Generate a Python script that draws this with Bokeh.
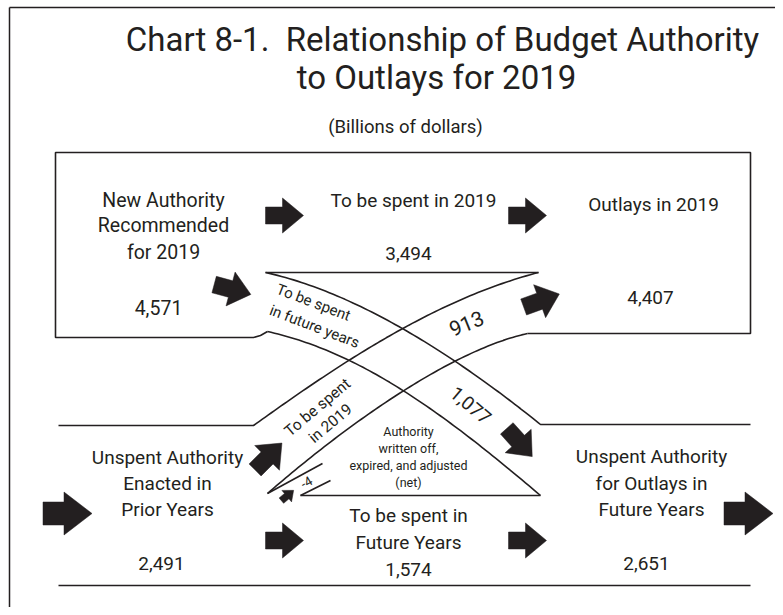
import numpy as np
from bokeh.plotting import figure
from bokeh.models import Range1d
from bokeh.embed import file_html
from bokeh.resources import INLINE
from bokeh.core.properties import value

# ---------------- data (billions of dollars) ----------------
title_lines = ["Chart 8-1.\u00a0 Relationship of Budget Authority", "to Outlays for 2019"]
subtitle = "(Billions of dollars)"

node_labels = [
    ["New Authority", "Recommended", "for 2019"],
    ["To be spent in 2019"],
    ["Outlays in 2019"],
    ["Unspent Authority", "Enacted in", "Prior Years"],
    ["To be spent in", "Future Years"],
    ["Unspent Authority", "for Outlays in", "Future Years"],
]
node_values = [4571, 3494, 4407, 2491, 1574, 2651]

flow_labels = [["To be spent", "in future years"], ["To be spent", "in 2019"]]
flow_values = [1077, 913]
writeoff_label = ["Authority", "written off,", "expired, and adjusted", "(net)"]
writeoff_value = -4

# ---------------- layout ----------------
TC = "#231F20"
FONT = "Roboto"
W, H = 775, 607

p = figure(width=W, height=H, x_range=Range1d(0, W), y_range=Range1d(H, 0),
           toolbar_location=None, output_backend="svg", min_border=0,
           x_axis_type=None, y_axis_type=None)
p.grid.visible = False
p.outline_line_color = None
p.background_fill_color = "white"
p.border_fill_color = "white"


def txt(x, y, s, size, angle=0.0):
    p.text(x=[x], y=[y], text=[s], text_font=value(FONT), text_font_size=f"{size}px",
           text_align="center", text_baseline="middle", angle=angle, text_color=TC)


def bez(p0, p1, p2, p3, n=80):
    t = np.linspace(0, 1, n)[:, None]
    P = ((1 - t) ** 3) * np.array(p0) + 3 * ((1 - t) ** 2) * t * np.array(p1) \
        + 3 * (1 - t) * t ** 2 * np.array(p2) + t ** 3 * np.array(p3)
    return list(P[:, 0]), list(P[:, 1])


def arrow(cx, cy, deg, L, shaft_len, shaft_half, head_half):
    u = np.array([-L / 2, -L / 2 + shaft_len, -L / 2 + shaft_len, L / 2,
                  -L / 2 + shaft_len, -L / 2 + shaft_len, -L / 2])
    v = np.array([-shaft_half, -shaft_half, -head_half, 0, head_half, shaft_half, shaft_half])
    th = np.radians(deg)
    dx, dy = np.cos(th), -np.sin(th)
    nx, ny = np.sin(th), np.cos(th)
    return list(cx + u * dx + v * nx), list(cy + u * dy + v * ny)


# frame (left and top edges)
p.multi_line(xs=[[9, 9], [9, W]], ys=[[H, 7], [7, 7]], line_color=TC, line_width=1.5)

# title
txt(442, 39, title_lines[0], 33)
txt(436, 77, title_lines[1], 33)
txt(405, 126, subtitle, 18.5)

# ---------------- flow lines ----------------
lines_x, lines_y = [], []
# top box outline
lines_x.append([527, 750, 750, 55, 55, 253, 260, 267])
lines_y.append([333, 333, 152, 152, 337, 337, 335, 331])
# top of the crossing band
lines_x.append([265, 538]); lines_y.append([272, 272])
# upper boundary of "future years" band + lower band top right
ax, ay = bez((265, 272), (370, 295), (478, 374), (540, 424))
lines_x.append(ax + [750]); lines_y.append(ay + [424])
# lower boundary of "future years" band (right edge of triangle)
ax, ay = bez((267, 331), (360, 352), (440, 410), (540, 495))
lines_x.append(ax); lines_y.append(ay)
# lower band top left + upper boundary of "2019" band
bx, by = bez((253, 425), (330, 370), (430, 300), (538, 272))
lines_x.append([58] + bx); lines_y.append([425] + by)
# lower boundary of "2019" band
bx, by = bez((267, 493), (345, 425), (450, 350), (527, 333))
lines_x.append(bx); lines_y.append(by)
# triangle bottom
lines_x.append([300, 540]); lines_y.append([495, 495])
# write-off wedge
lines_x.append([267, 322]); lines_y.append([493, 463])
lines_x.append([300, 330]); lines_y.append([495, 480])
# bottom line
lines_x.append([58, 750]); lines_y.append([585, 585])

p.multi_line(xs=lines_x, ys=lines_y, line_color=TC, line_width=1.6)

# ---------------- arrows ----------------
arrows = [
    (284, 215, 0, 38, 17, 8.5, 17.5),
    (527, 215, 0, 38, 17, 8.5, 17.5),
    (232, 289, -15, 38, 17, 8.5, 17.5),
    (541, 300, 20, 38, 17, 8.5, 17.5),
    (268, 456, 45, 38, 17, 8.5, 17.5),
    (519, 442, -48, 38, 17, 8.5, 17.5),
    (287, 495, 40, 16, 7, 3.5, 7.5),
    (284, 540, 0, 38, 17, 8.5, 17.5),
    (527, 540, 0, 38, 17, 8.5, 17.5),
    (67, 513, 0, 49, 21, 11.5, 21.5),
    (748, 513, 0, 49, 21, 11.5, 21.5),
]
axs, ays = [], []
for a in arrows:
    xx, yy = arrow(*a)
    axs.append(xx); ays.append(yy)
p.patches(xs=axs, ys=ays, fill_color=TC, line_color=TC, line_width=0.5)

# ---------------- node texts ----------------
fmt = lambda v: f"{v:,}"
# top row
for s, y in zip(node_labels[0], [200, 225, 252]):
    txt(163, y, s, 19.5)
txt(158, 307, fmt(node_values[0]), 19.5)
txt(413, 200, node_labels[1][0], 19)
txt(408, 253, fmt(node_values[1]), 19)
txt(653, 204, node_labels[2][0], 19)
txt(650, 297, fmt(node_values[2]), 19)
# bottom row
for s, y in zip(node_labels[3], [457, 483, 509]):
    txt(167, y, s, 19)
txt(161, 563, fmt(node_values[3]), 19)
for s, y in zip(node_labels[4], [515, 542]):
    txt(408, y, s, 19)
txt(408, 569, fmt(node_values[4]), 19)
for s, y in zip(node_labels[5], [456, 483, 509]):
    txt(651, y, s, 19)
txt(646, 563, fmt(node_values[5]), 19)

# write-off triangle text
for s, y in zip(writeoff_label, [431, 448, 465, 482]):
    txt(408, y, s, 12.5)
txt(306, 482, f"{writeoff_value}", 13, angle=np.radians(30))

# flow labels
txt(313, 302, flow_labels[0][0], 15, angle=np.radians(-21))
txt(314, 326, flow_labels[0][1], 15, angle=np.radians(-21))
txt(317, 407, flow_labels[1][0], 15.5, angle=np.radians(40))
txt(330, 423, flow_labels[1][1], 15.5, angle=np.radians(40))
txt(466, 323, fmt(flow_values[1]), 21, angle=np.radians(22))
txt(470, 405, fmt(flow_values[0]), 19, angle=np.radians(-40))

open("out.html", "w").write(file_html(p, INLINE))
